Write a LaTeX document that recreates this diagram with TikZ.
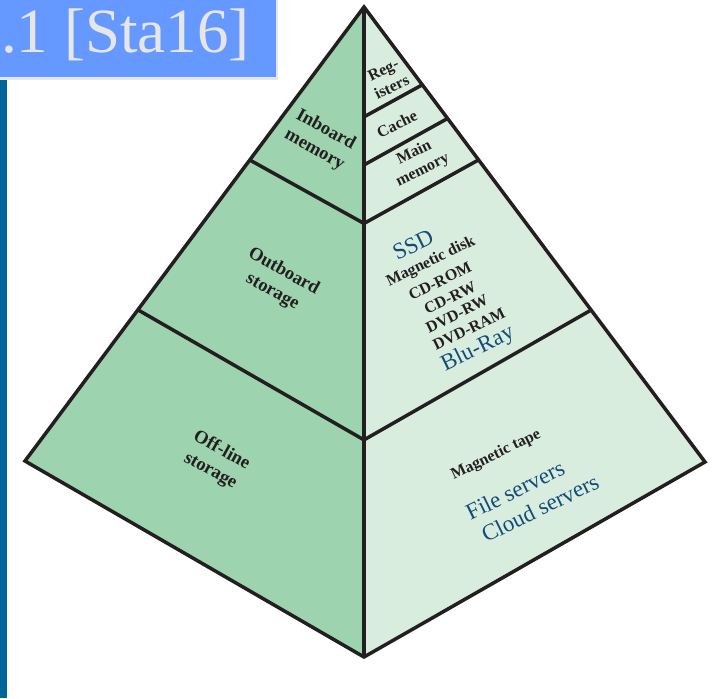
\documentclass[tikz,border=0pt]{standalone}
\usepackage{fontspec}
\setmainfont{Liberation Serif}
\usetikzlibrary{calc}
\definecolor{facedark}{HTML}{9DD3AF}
\definecolor{facelight}{HTML}{D9EDDF}
\definecolor{edgeblack}{HTML}{231F20}
\definecolor{labelblue}{HTML}{134C78}
\definecolor{titleblue}{HTML}{6699FF}
\definecolor{titlegrey}{HTML}{E6E6E6}
\definecolor{barblue}{HTML}{006699}
\tikzset{
  layerline/.style={line width=3.5pt, draw=edgeblack, line join=miter},
  leftlabel/.style={font=\bfseries\fontsize{18.5}{23}\selectfont, text=edgeblack, align=center, rotate=-29, inner sep=0pt},
  rightlabel/.style={font=\bfseries\fontsize{16}{19.5}\selectfont, text=edgeblack, align=center, rotate=26, inner sep=0pt},
  medialabel/.style={font=\bfseries\fontsize{16}{17}\selectfont, text=edgeblack, rotate=26, inner sep=0pt},
  serverlabel/.style={font=\fontsize{23}{24}\selectfont, text=labelblue, rotate=26, inner sep=0pt},
}
\begin{document}
\begin{tikzpicture}[x=1pt,y=-1pt]
	\useasboundingbox (0,0) rectangle (714,698);
	%%%%% TITLE %%%%%
	\fill[titlegrey] (0,0) rectangle (278,80);
	\fill[titleblue] (0,0) rectangle (276,77);
	\node[anchor=base west, inner sep=0pt, text=titlegrey, font=\fontsize{63}{63}\selectfont] (title) at (1,53) {.1 [Sta16]};
	\fill[barblue] (0,80) rectangle (7,698);
	
	%%%%% PYRAMID %%%%%
	\coordinate (apex) at (364,7);
	\coordinate (leftc) at (25,461);
	\coordinate (rightc) at (705,462);
	\coordinate (bottom) at (364,657);
	
	\fill[facedark] (apex) -- (leftc) -- (bottom) -- cycle;
	\fill[facelight] (apex) -- (rightc) -- (bottom) -- cycle;
	
	% left face: inboard / outboard / off-line
	\coordinate (inL) at ($(apex)!0.337!(leftc)$);
	\coordinate (inC) at ($(apex)!0.333!(bottom)$);
	\coordinate (outL) at ($(apex)!0.667!(leftc)$);
	\coordinate (outC) at ($(apex)!0.666!(bottom)$);
	\draw[layerline] (inL) -- (inC);
	\draw[layerline] (outL) -- (outC);
	
	% right face: registers / cache / main memory / disks / tape
	\coordinate (regR) at ($(apex)!0.171!(rightc)$);
	\coordinate (regC) at ($(apex)!0.169!(bottom)$);
	\coordinate (cacheR) at ($(apex)!0.245!(rightc)$);
	\coordinate (cacheC) at ($(apex)!0.243!(bottom)$);
	\coordinate (mainR) at ($(apex)!0.336!(rightc)$);
	\coordinate (diskR) at ($(apex)!0.666!(rightc)$);
	\draw[layerline] (regR) -- (regC);
	\draw[layerline] (cacheR) -- (cacheC);
	\draw[layerline] (mainR) -- (inC);
	\draw[layerline] (diskR) -- (outC);
	
	\draw[layerline] (apex) -- (bottom);
	\draw[layerline] (apex) -- (leftc) -- (bottom) -- (rightc) -- cycle;
	
	%%%%% LABELS %%%%%
	\node[leftlabel] (inboard) at (320,140) {Inboard\\memory};
	\node[leftlabel] (outboard) at (278,282) {Outboard\\storage};
	\node[leftlabel] (offline) at (216,461) {Off-line\\storage};
	
	\node[rightlabel] (registers) at (387.5,78.5) {Reg-\\isters};
	\node[rightlabel] (cache) at (397,124) {Cache};
	\node[rightlabel] (mainmem) at (418.5,161.5) {Main\\memory};
	
	\node[serverlabel] (ssd) at (413,245) {SSD};
	\node[medialabel] (magdisk) at (431,262) {Magnetic disk};
	\node[medialabel] (cdrom) at (440,281) {CD-ROM};
	\node[medialabel] (cdrw) at (450,298) {CD-RW};
	\node[medialabel] (dvdrw) at (457,314) {DVD-RW};
	\node[medialabel] (dvdram) at (469,329) {DVD-RAM};
	\node[serverlabel] (bluray) at (478,349) {Blu-Ray};
	
	\node[medialabel] (magtape) at (496,455) {Magnetic tape};
	\node[serverlabel] (fileserv) at (515,490) {File servers};
	\node[serverlabel] (cloudserv) at (540,508) {Cloud servers};
\end{tikzpicture}
\end{document}
